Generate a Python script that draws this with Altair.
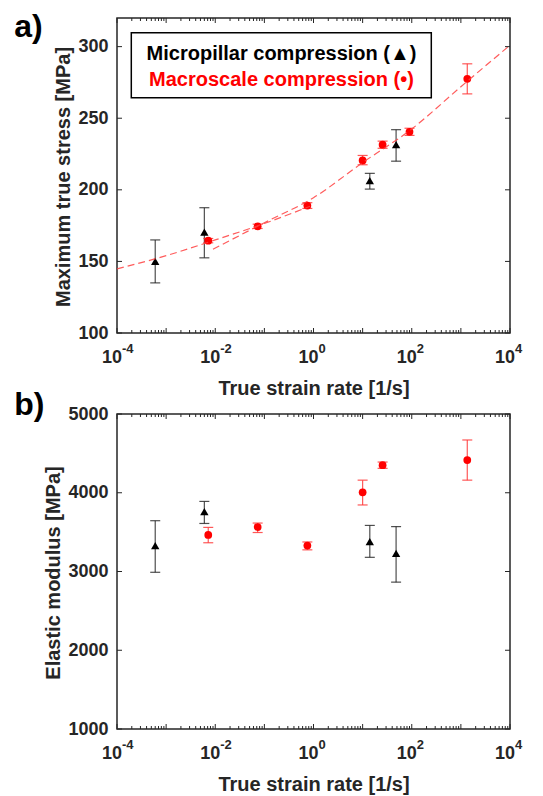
import altair as alt
import pandas as pd

FONT = "Liberation Sans"
INK = "#262626"
RED = "#ff0000"

# ---------------- data ----------------
micro_rate = [6.0e-4, 6.0e-3, 14.0, 48.0]
micro_stress = [150.0, 170.5, 206.5, 231.5]
micro_stress_lo = [135.0, 152.5, 200.5, 220.0]
micro_stress_hi = [165.0, 187.5, 211.5, 242.0]

macro_rate_a = [7.2e-3, 0.073, 0.75, 10.0, 25.5, 90.0, 1350.0]
macro_stress = [164.5, 174.5, 189.0, 220.5, 231.5, 240.5, 277.5]
macro_stress_lo = [163.0, 173.0, 187.0, 217.5, 229.0, 238.0, 267.0]
macro_stress_hi = [166.0, 176.0, 191.0, 224.0, 234.0, 243.0, 288.0]

micro_mod = [3330.0, 3760.0, 3380.0, 3230.0]
micro_mod_lo = [2990.0, 3610.0, 3180.0, 2865.0]
micro_mod_hi = [3645.0, 3890.0, 3585.0, 3570.0]

macro_rate_b = [7.2e-3, 0.073, 0.75, 10.0, 25.5, 1350.0]
macro_mod = [3465.0, 3565.0, 3330.0, 4005.0, 4350.0, 4415.0]
macro_mod_lo = [3365.0, 3495.0, 3275.0, 3845.0, 4310.0, 4160.0]
macro_mod_hi = [3560.0, 3615.0, 3375.0, 4160.0, 4390.0, 4670.0]

fitA_rate = [1e-4, 1e-3, 1e-2, 1e-1, 0.85]
fitA_stress = [144.8, 154.0, 165.0, 176.5, 188.5]
fitB_rate = [0.009, 0.1, 1.0, 10.0, 100.0, 1000.0, 10000.0]
fitB_stress = [158.5, 177.0, 194.5, 219.0, 242.5, 272.0, 301.0]

x_tick_vals = [1e-4, 1e-2, 1.0, 1e2, 1e4]
x_tick_exps = ["-4", "-2", "0", "2", "4"]
x_major = [1e-4, 1e-3, 1e-2, 1e-1, 1.0, 1e1, 1e2, 1e3, 1e4]
x_minor = [m * 10.0 ** e for e in range(-4, 4) for m in range(2, 10)]

y_ticks_a = [100, 150, 200, 250, 300]
y_ticks_b = [1000, 2000, 3000, 4000, 5000]

W, H = 393, 315
XSCALE = alt.Scale(type="log", domain=[1e-4, 1e4], nice=False)


def panel(micro_r, micro_v, micro_lo, micro_hi, macro_r, macro_v, macro_lo, macro_hi,
          fits, yticks, ydomain, ytitle, ytitle_x, letter, letter_y, legend):
    yscale = alt.Scale(domain=ydomain, nice=False, zero=False)
    yaxis = alt.Axis(values=yticks, format="d", ticks=False, tickSize=0, domain=False, grid=False,
                     labelPadding=9, labelFontSize=18, labelFontWeight="bold", labelColor=INK,
                     title=ytitle, titleFontSize=20, titleFontWeight="bold", titleColor=INK,
                     titleX=ytitle_x, titleY=158.5, titleAngle=270, titleBaseline="middle",
                     titleAlign="center")
    xaxis = alt.Axis(labels=False, ticks=False, tickSize=0, domain=False, grid=False,
                     title="True strain rate [1/s]", titleFontSize=20, titleFontWeight="bold",
                     titleColor=INK, titleX=W / 2, titleY=55, titleBaseline="middle",
                     titleAlign="center")

    def X(f="rate"):
        return alt.X(f + ":Q", scale=XSCALE, axis=xaxis)

    def Y(f):
        return alt.Y(f + ":Q", scale=yscale, axis=yaxis)

    dmi = pd.DataFrame({"rate": micro_r, "val": micro_v, "lo": micro_lo, "hi": micro_hi})
    dma = pd.DataFrame({"rate": macro_r, "val": macro_v, "lo": macro_lo, "hi": macro_hi})
    one = pd.DataFrame({"k": [0]})

    layers = []
    for d, col, op in [(dmi, "#222222", 0.8), (dma, "#ff3b3b", 0.85)]:
        base = alt.Chart(d)
        layers.append(base.mark_rule(color=col, strokeWidth=1.2, opacity=op).encode(
            x=X(), y=Y("lo"), y2="hi"))
        for f in ["lo", "hi"]:
            layers.append(base.mark_rule(color=col, strokeWidth=1.2, opacity=op,
                                         xOffset=-5, x2Offset=5).encode(
                x=X(), x2="rate", y=Y(f)))
    layers.append(alt.Chart(dma).mark_point(shape="circle", filled=True, size=60, color=RED,
                                            opacity=1).encode(x=X(), y=Y("val")))
    layers.append(alt.Chart(dmi).mark_point(shape="triangle-up", filled=True, size=70,
                                            color="#000000", opacity=1).encode(x=X(), y=Y("val")))
    for fr, fv in fits:
        dfit = pd.DataFrame({"rate": fr, "val": fv})
        layers.append(alt.Chart(dfit).mark_line(color="#ff4040", strokeWidth=1.2, opacity=0.85,
                                                strokeDash=[7, 4], interpolate="monotone").encode(
            x=X(), y=Y("val")))

    # inside ticks (MATLAB style box)
    dmaj = pd.DataFrame({"rate": x_major})
    dmin = pd.DataFrame({"rate": x_minor})
    for d, L in [(dmaj, 5), (dmin, 3)]:
        layers.append(alt.Chart(d).mark_rule(color=INK, strokeWidth=1).encode(
            x=X(), y=alt.value(H), y2=alt.value(H - L)))
        layers.append(alt.Chart(d).mark_rule(color=INK, strokeWidth=1).encode(
            x=X(), y=alt.value(0), y2=alt.value(L)))
    dy = pd.DataFrame({"v": yticks})
    layers.append(alt.Chart(dy).mark_rule(color=INK, strokeWidth=1).encode(
        y=Y("v"), x=alt.value(0), x2=alt.value(5)))
    layers.append(alt.Chart(dy).mark_rule(color=INK, strokeWidth=1).encode(
        y=Y("v"), x=alt.value(W - 5), x2=alt.value(W)))

    # x tick labels as 10 + superscript exponent
    dxl = pd.DataFrame({"rate": x_tick_vals, "exp": x_tick_exps})
    layers.append(alt.Chart(dxl).mark_text(align="right", baseline="middle", dx=5, fontSize=18,
                                           fontWeight="bold", font=FONT, color=INK).encode(
        x=X(), y=alt.value(H + 25), text=alt.value("10")))
    layers.append(alt.Chart(dxl).mark_text(align="left", baseline="middle", dx=5, fontSize=13,
                                           fontWeight="bold", font=FONT, color=INK).encode(
        x=X(), y=alt.value(H + 16), text="exp:N"))

    # panel letter
    layers.append(alt.Chart(one).mark_text(align="left", baseline="top", fontSize=32,
                                           fontWeight="bold", font=FONT, color="#000000").encode(
        x=alt.value(-102.7), y=alt.value(letter_y), text=alt.value(letter)))

    if legend:
        layers.append(alt.Chart(one).mark_rect(fill="white", stroke="#000000", strokeWidth=1.5).encode(
            x=alt.value(14.3), x2=alt.value(314.3), y=alt.value(14.7), y2=alt.value(79.7)))
        layers.append(alt.Chart(one).mark_text(align="center", baseline="middle", fontSize=20,
                                               fontWeight="bold", font=FONT, color="#000000").encode(
            x=alt.value(164.5), y=alt.value(36), text=alt.value("Micropillar compression (▲)")))
        layers.append(alt.Chart(one).mark_text(align="center", baseline="middle", fontSize=20,
                                               fontWeight="bold", font=FONT, color=RED).encode(
            x=alt.value(164.5), y=alt.value(61.5), text=alt.value("Macroscale compression (•)")))

    return alt.layer(*layers).properties(width=W, height=H)


pa = panel(micro_rate, micro_stress, micro_stress_lo, micro_stress_hi,
           macro_rate_a, macro_stress, macro_stress_lo, macro_stress_hi,
           [(fitA_rate, fitA_stress), (fitB_rate, fitB_stress)],
           y_ticks_a, [100, 320], "Maximum true stress [MPa]", -54, "a)", -6, True)
pb = panel(micro_rate, micro_mod, micro_mod_lo, micro_mod_hi,
           macro_rate_b, macro_mod, macro_mod_lo, macro_mod_hi,
           [], y_ticks_b, [1000, 5000], "Elastic modulus [MPa]", -64, "b)", -24, False)

chart = alt.vconcat(pa, pb, spacing=81, bounds="flush").properties(
    padding={"left": 5, "top": 2, "right": 5, "bottom": 0}
).configure_view(stroke=INK, strokeWidth=1.5).configure_axis(labelFont=FONT, titleFont=FONT)

chart.save("out.html", embed_options={"renderer": "svg", "actions": False})
